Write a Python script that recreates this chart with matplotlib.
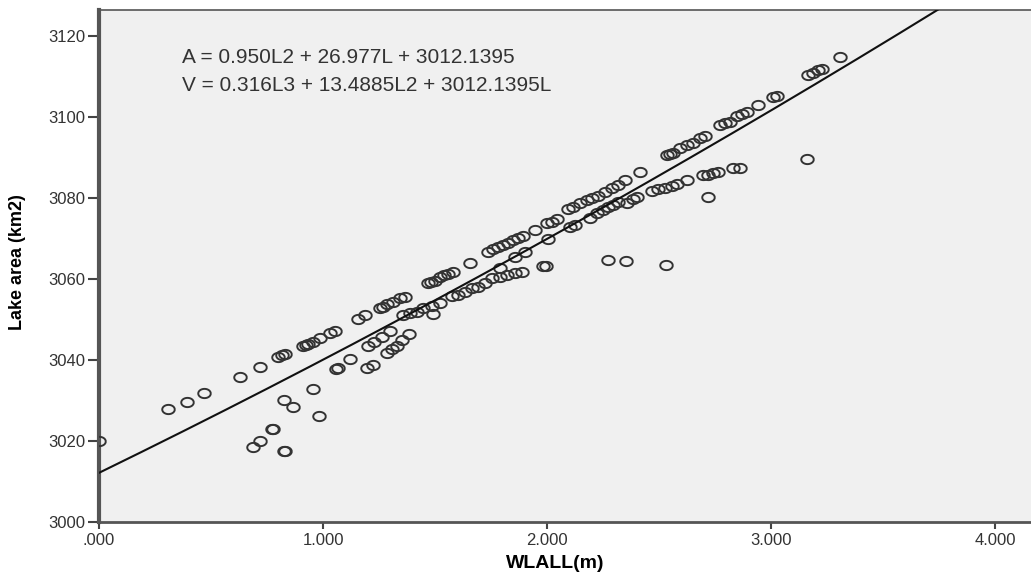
import numpy as np
import matplotlib
matplotlib.use('Agg')
import matplotlib.pyplot as plt
from matplotlib.path import Path

# water level (m) and lake area (km2)
upper_wl = [0.000, 0.308, 0.393, 0.469, 0.629, 0.719, 0.799, 0.817, 0.830, 0.911,
            0.924, 0.933, 0.955, 0.987, 1.031, 1.054, 1.156, 1.188, 1.254, 1.268,
            1.286, 1.313, 1.344, 1.366, 1.469, 1.482, 1.500, 1.522, 1.540, 1.558,
            1.580, 1.656, 1.737, 1.759, 1.781, 1.804, 1.826, 1.848, 1.871, 1.893,
            1.946, 2.000, 2.022, 2.045, 2.094, 2.116, 2.147, 2.179, 2.201, 2.228,
            2.259, 2.290, 2.317, 2.348, 2.415, 2.536, 2.549, 2.563, 2.594, 2.625,
            2.652, 2.683, 2.705, 2.772, 2.795, 2.817, 2.848, 2.871, 2.893, 2.942,
            3.009, 3.027, 3.165, 3.188, 3.210, 3.228, 3.308]
upper_area = [3020.0, 3027.9, 3029.6, 3031.9, 3035.8, 3038.3, 3040.7, 3041.2, 3041.5, 3043.5,
              3043.7, 3044.0, 3044.4, 3045.4, 3046.7, 3047.2, 3050.1, 3051.1, 3052.8, 3053.1,
              3053.8, 3054.3, 3055.3, 3055.6, 3059.0, 3059.3, 3059.5, 3060.5, 3061.0, 3061.2,
              3061.7, 3064.0, 3066.7, 3067.4, 3067.9, 3068.4, 3068.9, 3069.6, 3070.1, 3070.6,
              3072.1, 3073.8, 3074.1, 3074.8, 3077.3, 3077.8, 3078.8, 3079.5, 3080.0, 3080.5,
              3081.5, 3082.5, 3083.2, 3084.4, 3086.4, 3090.6, 3090.9, 3091.1, 3092.3, 3093.1,
              3093.6, 3094.8, 3095.3, 3098.0, 3098.5, 3098.8, 3100.2, 3100.7, 3101.2, 3103.0,
              3104.9, 3105.2, 3110.4, 3110.9, 3111.6, 3111.9, 3114.8]

lower_wl = [0.688, 0.719, 0.772, 0.777, 0.826, 0.830, 0.826, 0.866, 0.955, 0.982,
            1.058, 1.067, 1.121, 1.196, 1.223, 1.201, 1.228, 1.263, 1.299, 1.286,
            1.308, 1.330, 1.353, 1.384, 1.357, 1.388, 1.420, 1.446, 1.487, 1.491,
            1.522, 1.576, 1.603, 1.634, 1.665, 1.692, 1.723, 1.754, 1.790, 1.821,
            1.857, 1.888, 1.790, 1.857, 1.902, 1.982, 1.996, 2.004, 2.103, 2.125,
            2.192, 2.223, 2.250, 2.272, 2.295, 2.317, 2.357, 2.384, 2.402, 2.469,
            2.496, 2.527, 2.558, 2.580, 2.625, 2.696, 2.719, 2.741, 2.763, 2.830,
            2.862]
lower_area = [3018.5, 3020.0, 3023.0, 3023.0, 3017.5, 3017.5, 3030.1, 3028.4, 3032.8, 3026.2,
              3037.8, 3038.0, 3040.2, 3038.0, 3038.8, 3043.5, 3044.4, 3045.7, 3047.2, 3041.7,
              3042.7, 3043.5, 3044.9, 3046.4, 3051.1, 3051.6, 3051.9, 3052.8, 3053.3, 3051.4,
              3054.1, 3055.8, 3056.0, 3056.8, 3057.8, 3058.0, 3059.0, 3060.2, 3060.5, 3061.0,
              3061.5, 3061.7, 3062.7, 3065.4, 3066.7, 3063.2, 3063.2, 3069.9, 3072.8, 3073.3,
              3075.1, 3076.3, 3077.0, 3077.8, 3078.3, 3079.0, 3078.8, 3079.8, 3080.2, 3081.7,
              3082.2, 3082.5, 3083.0, 3083.5, 3084.4, 3085.7, 3085.7, 3086.2, 3086.4, 3087.4,
              3087.4]

outlier_wl = [2.272, 2.353, 2.531, 2.719, 3.161]
outlier_area = [3064.7, 3064.4, 3063.5, 3080.2, 3089.6]

# fitted curve A = a*L^2 + b*L + c
fit_a, fit_b, fit_c = 0.950, 26.977, 3012.1395

xticks = [0, 1, 2, 3, 4]
xtick_labels = ['.000', '1.000', '2.000', '3.000', '4.000']
yticks = [3000, 3020, 3040, 3060, 3080, 3100, 3120]

wl = np.array(upper_wl + lower_wl + outlier_wl)
area = np.array(upper_area + lower_area + outlier_area)

plt.rcParams['font.family'] = ['Liberation Sans', 'DejaVu Sans']

fig = plt.figure(figsize=(10.31, 5.77), dpi=100)
W, H = 1031.0, 577.0
ax = fig.add_axes([99 / W, 1 - 522 / H, (1031 - 99) / W, (522 - 10) / H])
ax.set_facecolor('#f0f0f0')

# slightly flattened ring, like the stretched markers of the original
t = np.linspace(0, 2 * np.pi, 60)
ring = Path(np.column_stack([np.cos(t), 0.74 * np.sin(t)]))

ax.plot(wl, area, linestyle='none', marker=ring, markersize=9,
        markerfacecolor='none', markeredgecolor='#333333', markeredgewidth=1.4, zorder=3)

xmin, xmax = 0, (1031 - 99) / 224.0
ymin, ymax = 3000, 3120 + 26 / 4.05
lx = np.linspace(xmin, xmax, 200)
ax.plot(lx, fit_a * lx ** 2 + fit_b * lx + fit_c, color='#111111', lw=1.5, zorder=4)

ax.set_xlim(xmin, xmax)
ax.set_ylim(ymin, ymax)

ax.set_xticks(xticks)
ax.set_xticklabels(xtick_labels)
ax.set_yticks(yticks)
ax.tick_params(axis='both', colors='#444444', labelcolor='#333333', labelsize=12)
ax.tick_params(axis='y', length=8, width=1.5, pad=2)
ax.tick_params(axis='x', length=5, width=1.5, pad=3)

ax.spines['left'].set_linewidth(3)
ax.spines['left'].set_color('#555555')
ax.spines['bottom'].set_linewidth(2)
ax.spines['bottom'].set_color('#555555')
ax.spines['top'].set_linewidth(1.2)
ax.spines['top'].set_color('#555555')
ax.spines['right'].set_visible(False)

ax.text(0.37, 3114.6, 'A = 0.950L2 + 26.977L + 3012.1395', fontsize=15,
        color='#333333', va='center', ha='left')
ax.text(0.37, 3107.7, 'V = 0.316L3 + 13.4885L2 + 3012.1395L', fontsize=15,
        color='#333333', va='center', ha='left')

ax.set_xlabel('WLALL(m)', fontsize=14, fontweight='bold')
ax.xaxis.set_label_coords((555 - 99) / 932.0, -33 / 512.0)
ax.set_ylabel('Lake area (km2)', fontsize=13, fontweight='bold')
ax.yaxis.set_label_coords(-73 / 932.0, (522 - 262) / 512.0)

plt.savefig('out.png', dpi=100)
plt.close()
